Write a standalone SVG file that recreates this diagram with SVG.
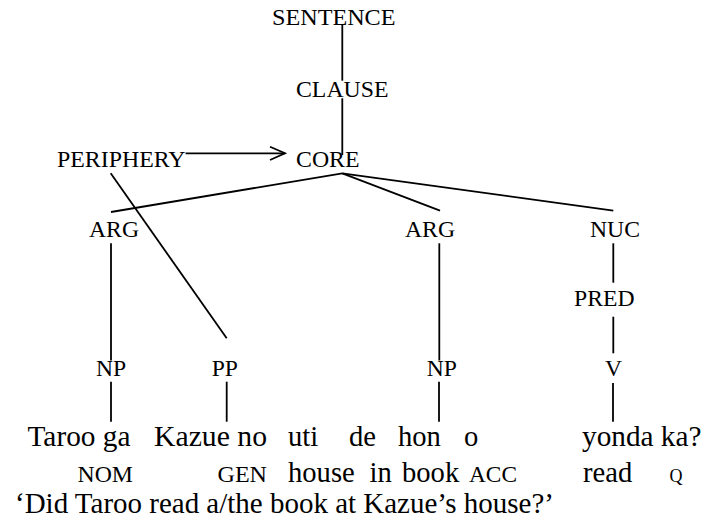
<svg xmlns="http://www.w3.org/2000/svg" width="703" height="523" viewBox="0 0 703 523">
<style>
text{font-family:'Liberation Serif','Times New Roman',serif;fill:#000}
.lbl{font-size:23.6px}
.w{font-size:28.6px}
.sc{font-size:23px}
.c{stroke:#000;stroke-width:1.8;fill:none}
</style>
<rect width="703" height="523" fill="#fff"/>
<g id="connectors">
<line class="c" x1="342.3" y1="25" x2="342.3" y2="80.7"/>
<line class="c" x1="342.3" y1="98.3" x2="342.3" y2="155"/>
<line class="c" x1="185.5" y1="153.3" x2="285" y2="153.3"/>
<polyline class="c" points="270,146.7 285,153.3 270,160"/>
<line class="c" x1="342.3" y1="173.3" x2="111" y2="212"/>
<line class="c" x1="342.3" y1="173.3" x2="440" y2="210.7"/>
<line class="c" x1="342.3" y1="173.3" x2="613.3" y2="210.7"/>
<line class="c" x1="110.7" y1="173.3" x2="226.7" y2="338.3"/>
<line class="c" x1="111" y1="243.3" x2="111" y2="360.5"/>
<line class="c" x1="439.3" y1="243.3" x2="439.3" y2="360.5"/>
<line class="c" x1="613.3" y1="243.3" x2="613.3" y2="282.7"/>
<line class="c" x1="613.3" y1="316.7" x2="613.3" y2="353.3"/>
<line class="c" x1="111" y1="381.7" x2="111" y2="421.7"/>
<line class="c" x1="226.7" y1="381.7" x2="226.7" y2="421.7"/>
<line class="c" x1="439" y1="381.7" x2="439" y2="421.7"/>
<line class="c" x1="613" y1="383" x2="613" y2="421.7"/>
</g>
<g id="sentence"><text class="lbl" x="272" y="25" textLength="123.5" lengthAdjust="spacingAndGlyphs">SENTENCE</text></g>
<g id="clause"><text class="lbl" x="296" y="97.3" textLength="92.5" lengthAdjust="spacingAndGlyphs">CLAUSE</text></g>
<g id="core"><text class="lbl" x="296" y="166.7" textLength="63.5" lengthAdjust="spacingAndGlyphs">CORE</text></g>
<g id="periphery"><text class="lbl" x="57" y="166.7" textLength="128.5" lengthAdjust="spacingAndGlyphs">PERIPHERY</text></g>
<g id="arg1"><text class="lbl" x="89" y="236.7" textLength="50" lengthAdjust="spacingAndGlyphs">ARG</text></g>
<g id="arg2"><text class="lbl" x="405" y="236.7" textLength="50" lengthAdjust="spacingAndGlyphs">ARG</text></g>
<g id="nuc"><text class="lbl" x="590" y="236.7" textLength="50" lengthAdjust="spacingAndGlyphs">NUC</text></g>
<g id="pred"><text class="lbl" x="574" y="305.7" textLength="60.5" lengthAdjust="spacingAndGlyphs">PRED</text></g>
<g id="np1"><text class="lbl" x="96" y="376">NP</text></g>
<g id="pp"><text class="lbl" x="211.7" y="376">PP</text></g>
<g id="np2"><text class="lbl" x="426.7" y="376">NP</text></g>
<g id="v"><text class="lbl" x="605" y="376">V</text></g>
<g id="words">
<text class="w" x="27.5" y="446" textLength="103" lengthAdjust="spacingAndGlyphs">Taroo ga</text>
<text class="w" x="154" y="446" textLength="113" lengthAdjust="spacingAndGlyphs">Kazue no</text>
<text class="w" x="288" y="446">uti</text>
<text class="w" x="349" y="446">de</text>
<text class="w" x="398" y="446">hon</text>
<text class="w" x="464" y="446">o</text>
<text class="w" x="582" y="446" textLength="119.5" lengthAdjust="spacingAndGlyphs">yonda ka?</text>
</g>
<g id="glosses">
<text class="sc" x="77.5" y="481.5" textLength="55.5" lengthAdjust="spacingAndGlyphs">NOM</text>
<text class="sc" x="217.5" y="481.5" textLength="49.5" lengthAdjust="spacingAndGlyphs">GEN</text>
<text class="w" x="288" y="481.5">house</text>
<text class="w" x="369.5" y="481.5">in</text>
<text class="w" x="402" y="481.5">book</text>
<text class="sc" x="469" y="481.5" textLength="48" lengthAdjust="spacingAndGlyphs">ACC</text>
<text class="w" x="583" y="481.5">read</text>
<text class="sc" x="669.5" y="481.5" style="font-size:18px">Q</text>
</g>
<g id="translation"><text class="w" x="15" y="513" textLength="539" lengthAdjust="spacingAndGlyphs">‘Did Taroo read a/the book at Kazue’s house?’</text></g>
</svg>
